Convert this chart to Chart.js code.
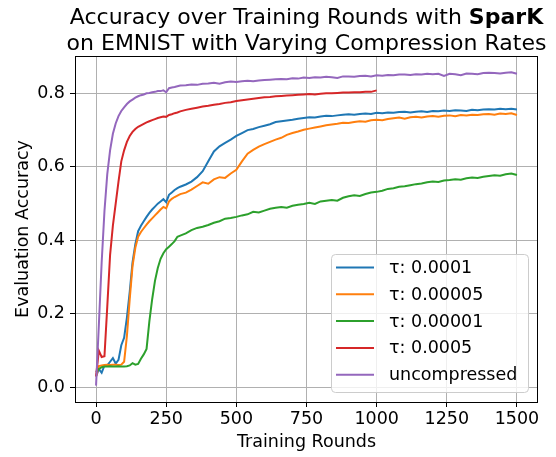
<!DOCTYPE html>
<html>
<head>
<meta charset="utf-8">
<script src="https://cdn.jsdelivr.net/npm/chart.js@4.4.0/dist/chart.umd.min.js"></script>
<style>
  html, body { margin: 0; padding: 0; background: #fff; }
  canvas { display: block; }
</style>
</head>
<body>
<canvas id="acc" width="556" height="457"></canvas>
<script>
// training rounds: every 10 up to 300, then every 20
const rounds = [
  0, 10, 20, 30, 40, 50, 60, 70, 80, 90, 100, 110, 120, 130, 140, 150, 160, 170, 180, 190,
  200, 210, 220, 230, 240, 250, 260, 270, 280, 290, 300,
  320, 340, 360, 380, 400, 420, 440, 460, 480, 500, 520, 540, 560, 580, 600, 620, 640, 660, 680,
  700, 720, 740, 760, 780, 800, 820, 840, 860, 880, 900, 920, 940, 960, 980, 1000, 1020, 1040, 1060, 1080,
  1100, 1120, 1140, 1160, 1180, 1200, 1220, 1240, 1260, 1280, 1300, 1320, 1340, 1360, 1380, 1400, 1420, 1440, 1460, 1480, 1500
];

const seriesLabels = ['τ: 0.0001', 'τ: 0.00005', 'τ: 0.00001', 'τ: 0.0005', 'uncompressed'];
const seriesColors = ['#1f77b4', '#ff7f0e', '#2ca02c', '#d62728', '#9467bd'];

const tau1e4 = [
  0.03, 0.05, 0.04, 0.06, 0.06, 0.07, 0.08, 0.065, 0.075, 0.115, 0.135, 0.19, 0.26, 0.34, 0.39, 0.425, 0.44, 0.452, 0.464, 0.475,
  0.484, 0.492, 0.50, 0.506, 0.512, 0.504, 0.524, 0.530, 0.537, 0.542, 0.546,
  0.552, 0.560, 0.572, 0.588, 0.615, 0.642, 0.656, 0.665, 0.674, 0.684, 0.692, 0.700, 0.703, 0.708, 0.712, 0.716, 0.722, 0.724, 0.726,
  0.728, 0.731, 0.733, 0.735, 0.734, 0.737, 0.739, 0.738, 0.740, 0.742, 0.743, 0.742, 0.744, 0.745, 0.744, 0.747, 0.746, 0.748, 0.747, 0.749,
  0.750, 0.748, 0.750, 0.751, 0.749, 0.752, 0.751, 0.753, 0.752, 0.754, 0.753, 0.752, 0.755, 0.754, 0.756, 0.757, 0.756, 0.758, 0.757, 0.758, 0.756
];

const tau5e5 = [
  0.03, 0.058, 0.06, 0.061, 0.062, 0.061, 0.062, 0.062, 0.061, 0.062, 0.07, 0.14, 0.24, 0.33, 0.38, 0.41, 0.423, 0.433, 0.443, 0.452,
  0.46, 0.468, 0.476, 0.484, 0.491, 0.487, 0.506, 0.513, 0.518, 0.522, 0.526,
  0.530, 0.538, 0.548, 0.558, 0.554, 0.566, 0.572, 0.570, 0.582, 0.592, 0.615, 0.636, 0.646, 0.655, 0.662, 0.668, 0.674, 0.679, 0.687,
  0.692, 0.696, 0.701, 0.704, 0.707, 0.710, 0.713, 0.715, 0.717, 0.720, 0.719, 0.722, 0.724, 0.723, 0.727, 0.728, 0.727, 0.730, 0.732, 0.734,
  0.731, 0.735, 0.736, 0.734, 0.737, 0.738, 0.736, 0.739, 0.740, 0.738, 0.741, 0.740, 0.742, 0.741, 0.743, 0.744, 0.742, 0.745, 0.744, 0.746, 0.741
];

const tau1e5 = [
  0.042, 0.05, 0.055, 0.057, 0.057, 0.058, 0.057, 0.057, 0.058, 0.057, 0.057, 0.058, 0.06, 0.066, 0.062, 0.064, 0.078, 0.09, 0.105, 0.18,
  0.24, 0.29, 0.325, 0.35, 0.365, 0.376, 0.383, 0.39, 0.398, 0.41, 0.413,
  0.419, 0.428, 0.434, 0.437, 0.442, 0.448, 0.452, 0.459, 0.461, 0.464, 0.468, 0.471, 0.478, 0.476, 0.481, 0.486, 0.489, 0.491, 0.489,
  0.494, 0.497, 0.499, 0.502, 0.499, 0.506, 0.508, 0.510, 0.508, 0.516, 0.520, 0.523, 0.521, 0.526, 0.530, 0.532, 0.535, 0.540, 0.542, 0.546,
  0.547, 0.550, 0.553, 0.555, 0.558, 0.560, 0.559, 0.563, 0.564, 0.566, 0.565, 0.569, 0.571, 0.570, 0.573, 0.575, 0.577, 0.576, 0.580, 0.582, 0.578
];

// this run stops at round 1000
const tau5e4 = [
  0.03, 0.10, 0.083, 0.085, 0.22, 0.36, 0.44, 0.50, 0.56, 0.615, 0.645, 0.668, 0.684, 0.695, 0.703, 0.709, 0.713, 0.717, 0.721, 0.724,
  0.727, 0.730, 0.733, 0.735, 0.737, 0.736, 0.741, 0.743, 0.746, 0.748, 0.751,
  0.755, 0.758, 0.761, 0.764, 0.766, 0.769, 0.771, 0.774, 0.776, 0.779, 0.781, 0.783, 0.785, 0.787, 0.789, 0.790, 0.792, 0.793, 0.794,
  0.795, 0.796, 0.797, 0.798, 0.797, 0.799, 0.800, 0.800, 0.801, 0.802, 0.802, 0.803, 0.803, 0.804, 0.804, 0.808
];

const uncompressed = [
  0.005, 0.17, 0.34, 0.48, 0.58, 0.645, 0.69, 0.718, 0.738, 0.752, 0.762, 0.771, 0.778, 0.783, 0.788, 0.792, 0.795, 0.797, 0.800, 0.801,
  0.803, 0.804, 0.806, 0.806, 0.808, 0.803, 0.814, 0.816, 0.817, 0.819, 0.821,
  0.822, 0.824, 0.823, 0.826, 0.827, 0.829, 0.826, 0.830, 0.832, 0.831, 0.833, 0.834, 0.833, 0.835, 0.836, 0.837, 0.838, 0.839, 0.838,
  0.841, 0.840, 0.843, 0.842, 0.844, 0.843, 0.845, 0.844, 0.842, 0.846, 0.846, 0.845, 0.847, 0.848, 0.846, 0.849, 0.848, 0.850, 0.849, 0.851,
  0.851, 0.850, 0.852, 0.851, 0.853, 0.852, 0.853, 0.847, 0.853, 0.852, 0.849, 0.854, 0.853, 0.852, 0.855, 0.856, 0.855, 0.854, 0.856, 0.857, 0.853
];

const xTicks = [0, 250, 500, 750, 1000, 1250, 1500];
const yTicks = [0.0, 0.2, 0.4, 0.6, 0.8];

const FONT = '"DejaVu Sans", sans-serif';
const PLOT = { left: 75, right: 538, top: 56, bottom: 402 };

const allSeries = [tau1e4, tau5e5, tau1e5, tau5e4, uncompressed];
const datasets = allSeries.map((vals, i) => ({
  label: seriesLabels[i],
  data: vals.map((v, j) => ({ x: rounds[j], y: v })),
  borderColor: seriesColors[i],
  backgroundColor: seriesColors[i],
  borderWidth: 2,
  pointRadius: 0,
  tension: 0,
  fill: false,
  order: allSeries.length - i   // later series on top
}));

// title, axis labels, frame and legend
const decor = {
  id: 'decor',
  afterDraw(chart) {
    const { ctx, chartArea: a } = chart;
    ctx.save();

    ctx.strokeStyle = '#000';
    ctx.lineWidth = 1;
    ctx.strokeRect(Math.round(a.left) + 0.5, Math.round(a.top) + 0.5,
      Math.round(a.right - a.left) - 1, Math.round(a.bottom - a.top));

    const cx = (a.left + a.right) / 2;
    ctx.fillStyle = '#000';
    ctx.textBaseline = 'alphabetic';

    // two-line title with bold method name
    const tNorm = 'normal 22px ' + FONT;
    const tBold = 'bold 22px ' + FONT;
    const part1 = 'Accuracy over Training Rounds with ';
    const part2 = 'SparK';
    ctx.font = tNorm;
    const w1 = ctx.measureText(part1).width;
    ctx.font = tBold;
    const w2 = ctx.measureText(part2).width;
    let x0 = cx - (w1 + w2) / 2;
    ctx.textAlign = 'left';
    ctx.font = tNorm;
    ctx.fillText(part1, x0, 24);
    ctx.font = tBold;
    ctx.fillText(part2, x0 + w1, 24);
    ctx.font = tNorm;
    ctx.textAlign = 'center';
    ctx.fillText('on EMNIST with Varying Compression Rates', cx, 50);

    // axis titles
    ctx.font = '17.5px ' + FONT;
    ctx.fillText('Training Rounds', cx, 447);
    ctx.save();
    ctx.translate(28, (a.top + a.bottom) / 2);
    ctx.rotate(-Math.PI / 2);
    ctx.fillText('Evaluation Accuracy', 0, 0);
    ctx.restore();

    // legend box
    const box = { x: 331, y: 254, w: 197, h: 138 };
    ctx.beginPath();
    ctx.roundRect(box.x + 0.5, box.y + 0.5, box.w, box.h, 4);
    ctx.fillStyle = 'rgba(255,255,255,0.8)';
    ctx.fill();
    ctx.strokeStyle = '#cccccc';
    ctx.stroke();

    ctx.font = '17.5px ' + FONT;
    ctx.textAlign = 'left';
    ctx.textBaseline = 'middle';
    chart.data.datasets.forEach((ds, i) => {
      const y = 267.5 + i * 26.8;
      ctx.strokeStyle = ds.borderColor;
      ctx.lineWidth = 2;
      ctx.beginPath();
      ctx.moveTo(336, y);
      ctx.lineTo(374, y);
      ctx.stroke();
      ctx.fillStyle = '#000';
      ctx.fillText(ds.label, 389, y + 1);
    });

    ctx.restore();
  }
};

new Chart(document.getElementById('acc'), {
  type: 'line',
  data: { datasets },
  options: {
    responsive: false,
    animation: false,
    layout: { padding: { left: 0, right: 556 - PLOT.right, top: PLOT.top, bottom: 0 } },
    plugins: {
      legend: { display: false },
      title: { display: false },
      tooltip: { enabled: false }
    },
    scales: {
      x: {
        type: 'linear',
        min: -75,
        max: 1575,
        afterBuildTicks: s => { s.ticks = xTicks.map(v => ({ value: v })); },
        afterFit: s => { s.height = 457 - PLOT.bottom; },
        ticks: {
          color: '#000',
          font: { family: FONT, size: 17.5 },
          padding: 2,
          maxRotation: 0,
          callback: v => String(v)
        },
        grid: { color: '#b0b0b0', lineWidth: 1, tickLength: 5, tickColor: '#000' },
        border: { display: false }
      },
      y: {
        min: -0.0395,
        max: 0.9015,
        afterBuildTicks: s => { s.ticks = yTicks.map(v => ({ value: v })); },
        afterFit: s => { s.width = PLOT.left; },
        ticks: {
          color: '#000',
          font: { family: FONT, size: 17.5 },
          padding: 5,
          callback: v => v.toFixed(1)
        },
        grid: { color: '#b0b0b0', lineWidth: 1, tickLength: 5, tickColor: '#000' },
        border: { display: false }
      }
    }
  },
  plugins: [decor]
});
</script>
</body>
</html>
